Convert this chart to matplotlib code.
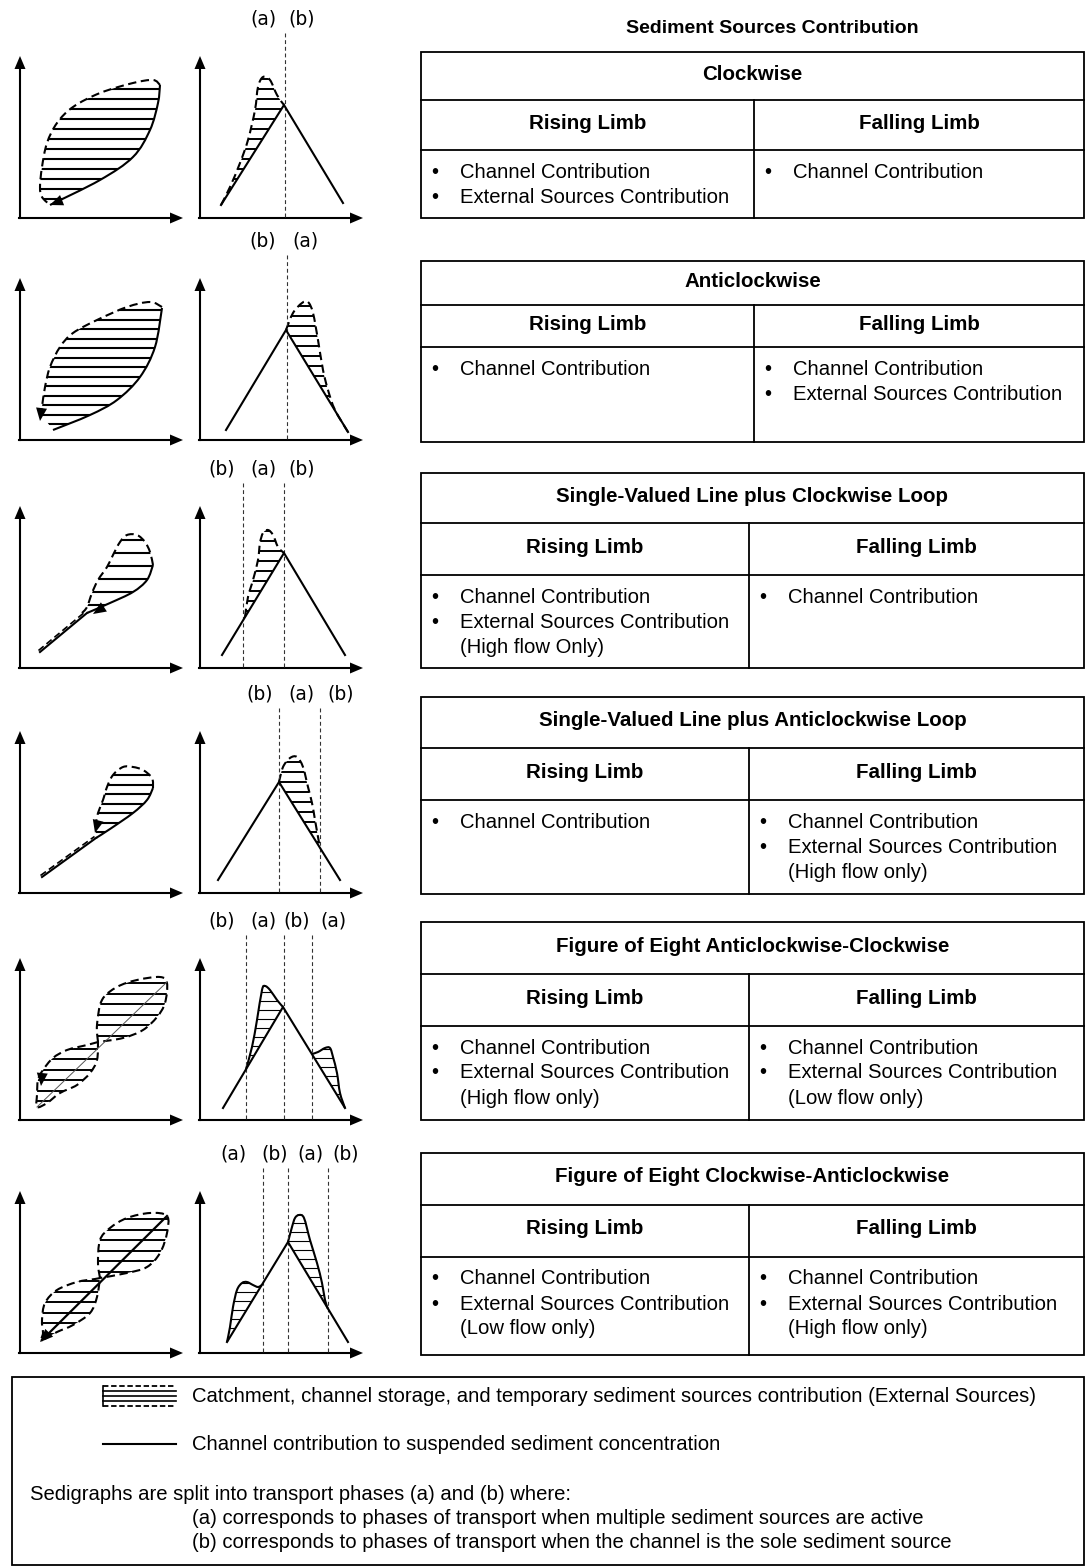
import numpy as np
import matplotlib.pyplot as plt
from matplotlib.path import Path
from matplotlib.patches import PathPatch, Polygon, Rectangle

plt.rcParams['font.family'] = ['Liberation Sans', 'DejaVu Sans']

# ---- table content ----
titles = ['Clockwise', 'Anticlockwise', 'Single-Valued Line plus Clockwise Loop',
          'Single-Valued Line plus Anticlockwise Loop',
          'Figure of Eight Anticlockwise-Clockwise', 'Figure of Eight Clockwise-Anticlockwise']
rising_text = [['Channel Contribution', 'External Sources Contribution'],
               ['Channel Contribution'],
               ['Channel Contribution', 'External Sources Contribution', '(High flow Only)'],
               ['Channel Contribution'],
               ['Channel Contribution', 'External Sources Contribution', '(High flow only)'],
               ['Channel Contribution', 'External Sources Contribution', '(Low flow only)']]
falling_text = [['Channel Contribution'],
                ['Channel Contribution', 'External Sources Contribution'],
                ['Channel Contribution'],
                ['Channel Contribution', 'External Sources Contribution', '(High flow only)'],
                ['Channel Contribution', 'External Sources Contribution', '(Low flow only)'],
                ['Channel Contribution', 'External Sources Contribution', '(High flow only)']]
phase_labels = [['(a)', '(b)'], ['(b)', '(a)'], ['(b)', '(a)', '(b)'], ['(b)', '(a)', '(b)'],
                ['(b)', '(a)', '(b)', '(a)'], ['(a)', '(b)', '(a)', '(b)']]
legend_text = ['Catchment, channel storage, and temporary sediment sources contribution (External Sources)',
               'Channel contribution to suspended sediment concentration',
               'Sedigraphs are split into transport phases (a) and (b) where:',
               '(a) corresponds to phases of transport when multiple sediment sources are active',
               '(b) corresponds to phases of transport when the channel is the sole sediment source']

# ---- hysteresis loop shapes (Q, SSC) ----
cw_solid = [(30, 13), (80, 38), (113, 61), (130, 88), (138, 115), (140, 133)]
cw_dashed = [(140, 133), (133, 138), (113, 135), (80, 125), (53, 111), (37, 95), (27, 75),
             (22, 51), (20, 31), (22, 21), (30, 13)]
acw_solid = [(33, 10), (70, 25), (97, 40), (120, 63), (135, 93), (142, 132)]
acw_dashed = [(142, 133), (130, 138), (107, 133), (77, 120), (53, 107), (40, 93), (30, 73),
              (25, 53), (22, 33), (21, 26)]
svcw_line = [(20, 16), (67, 55)]
svcw_solid = [(67, 55), (90, 65), (113, 76), (127, 88), (133, 103)]
svcw_dashed = [(133, 103), (130, 116), (125, 126), (117, 133), (107, 133), (100, 126), (93, 113),
               (87, 101), (78, 88), (72, 75), (67, 61), (62, 55)]
svacw_line = [(22, 16), (76, 55)]
svacw_solid = [(76, 55), (90, 64), (113, 80), (127, 93), (133, 105)]
svacw_dashed = [(133, 105), (132, 115), (123, 123), (113, 126), (103, 126), (93, 118), (87, 106),
                (83, 93), (78, 80), (76, 70)]
f8a_upper = [(78, 78), (77, 95), (82, 120), (97, 133), (117, 140), (140, 143), (147, 137), (145, 117),
             (137, 103), (123, 90), (103, 82), (78, 78)]
f8a_lower = [(78, 78), (67, 75), (47, 70), (33, 62), (23, 50), (18, 40), (17, 25), (17, 13), (27, 17),
             (40, 27), (57, 35), (70, 47), (77, 60), (78, 78)]
f8a_diag = [(17, 13), (147, 138)]
f8b_upper = [(80, 75), (78, 90), (80, 113), (90, 125), (107, 135), (130, 140), (147, 137), (147, 120),
             (140, 100), (127, 86), (107, 80), (80, 75)]
f8b_lower = [(80, 75), (75, 74), (57, 71), (37, 63), (25, 50), (22, 33), (23, 20), (22, 13), (37, 21),
             (53, 28), (70, 40), (77, 56), (80, 75)]
f8b_diag = [(22, 13), (147, 137)]

# ---- sedigraphs (time, SSC) ----
triangles = [[(21, 13), (84, 113), (143, 15)],
             [(26, 10), (86, 110), (148, 8)],
             [(22, 13), (84, 115), (145, 13)],
             [(18, 13), (79, 111), (140, 13)],
             [(23, 12), (83, 113), (145, 12)],
             [(27, 11), (88, 111), (148, 11)]]
bumps = [[[(21, 13), (30, 31), (40, 55), (48, 78), (55, 108), (58, 131), (63, 141), (70, 138), (77, 123), (84, 113)]],
         [[(86, 110), (93, 127), (102, 137), (108, 138), (113, 127), (118, 100), (123, 70), (128, 50), (135, 30), (148, 8)]],
         [[(45, 51), (48, 71), (53, 88), (58, 108), (60, 125), (63, 135), (68, 138), (73, 133), (78, 121), (84, 115)]],
         [[(79, 111), (83, 126), (90, 135), (97, 136), (103, 126), (108, 106), (112, 90), (115, 73), (118, 56), (120, 45)]],
         [[(46, 51), (52, 73), (57, 100), (62, 130), (65, 134), (70, 130), (77, 120), (83, 113)],
          [(112, 66), (118, 68), (125, 72), (130, 72), (133, 63), (137, 47), (140, 27), (145, 12)]],
         [[(27, 11), (30, 26), (33, 46), (37, 63), (42, 70), (47, 71), (53, 68), (58, 66), (62, 68)],
          [(88, 111), (92, 126), (95, 135), (99, 138), (104, 135), (110, 113), (117, 90), (122, 70), (125, 53), (128, 44)]]]
phase_splits = [[85], [87], [43, 84], [79, 120], [46, 84, 112], [63, 88, 128]]
label_pos = [[63, 102], [63, 105], [22, 63, 102], [60, 101, 141], [22, 63, 97, 133], [33, 75, 110, 146]]

# ---- layout ----
baselines = [218, 440, 668, 893, 1120, 1353]
tab_top = [52, 261, 473, 697, 922, 1153]
tab_title = [100, 305, 523, 748, 974, 1205]
tab_head = [150, 347, 575, 800, 1026, 1257]
tab_bot = [218, 442, 668, 894, 1120, 1355]
tab_split = [754, 754, 749, 749, 749, 749]
TX0, TX1 = 421, 1084
HX, SX = 20, 200
LW = 1.5
DASH = (0, (4, 2.2))

fig = plt.figure(figsize=(10.86, 15.68), dpi=100)
ax = fig.add_axes([0, 0, 1, 1])
ax.set_xlim(0, 1086)
ax.set_ylim(1568, 0)
ax.axis('off')


def glob(pts, x0, base):
    p = np.asarray(pts, float)
    return np.column_stack([x0 + p[:, 0], base - p[:, 1]])


def segs(p):
    # catmull-rom through the points, as cubic bezier pieces
    v = []
    n = len(p)
    for i in range(n - 1):
        p0 = p[i - 1] if i > 0 else p[i]
        p1, p2 = p[i], p[i + 1]
        p3 = p[i + 2] if i + 2 < n else p[i + 1]
        v += [p1 + (p2 - p0) / 6, p2 - (p3 - p1) / 6, p2]
    return v


def curve(p, closed=False):
    verts = [p[0]] + segs(p)
    codes = [Path.MOVETO] + [Path.CURVE4] * (len(verts) - 1)
    if closed:
        verts.append(p[0])
        codes.append(Path.CLOSEPOLY)
    return Path(verts, codes)


def region(*parts):
    verts = [parts[0][0]]
    codes = [Path.MOVETO]
    for p in parts:
        if np.hypot(*(p[0] - verts[-1])) > 0.5:
            verts.append(p[0])
            codes.append(Path.LINETO)
        s = segs(p)
        verts += s
        codes += [Path.CURVE4] * len(s)
    verts.append(parts[0][0])
    codes.append(Path.CLOSEPOLY)
    return Path(verts, codes)


def hatch(path, step, lw):
    patch = PathPatch(path, facecolor='none', edgecolor='none')
    ax.add_patch(patch)
    ext = path.get_extents()
    for y in np.arange(ext.y1 - step * 0.6, ext.y0, -step):
        ln, = ax.plot([ext.x0 - 3, ext.x1 + 3], [y, y], color='k', lw=lw, solid_capstyle='butt')
        ln.set_clip_path(patch)


def stroke(path, dashed=False, lw=LW, color='k'):
    ax.add_patch(PathPatch(path, fill=False, lw=lw, edgecolor=color,
                           linestyle=DASH if dashed else '-', capstyle='butt'))


def head(tip, d, length=13, width=11):
    tip = np.asarray(tip, float)
    d = np.asarray(d, float)
    d = d / np.hypot(*d)
    n = np.array([-d[1], d[0]])
    b = tip - d * length
    ax.add_patch(Polygon([tip, b + n * width / 2, b - n * width / 2], closed=True, color='k', lw=0))


def axes_arrows(x0, base):
    ax.plot([x0, x0], [base, base - 150], color='k', lw=LW)
    ax.plot([x0 - 1, x0 + 150], [base, base], color='k', lw=LW)
    head((x0, base - 162), (0, -1))
    head((x0 + 163, base), (1, 0))


# ---- hysteresis panels ----
loops = [(cw_solid, cw_dashed, 10, (30, 13), (-1, 0.4)),
         (acw_solid, acw_dashed, 9.5, (20, 19), (-0.12, 1)),
         (svcw_solid, svcw_dashed, 13, (73, 54), (-1, 0.65)),
         (svacw_solid, svacw_dashed, 9.5, (75, 60), (-0.25, 1))]
for i, (sol, das, step, tip, d) in enumerate(loops):
    b = baselines[i]
    axes_arrows(HX, b)
    s = glob(sol, HX, b)
    q = glob(das, HX, b)
    hatch(region(s, q), step, 1.5)
    stroke(curve(s))
    stroke(curve(q), dashed=True)
    head(glob([tip], HX, b)[0], (d[0], d[1]))
for i, line in ((2, svcw_line), (3, svacw_line)):
    b = baselines[i]
    g = glob(line, HX, b)
    ax.plot(g[:, 0], g[:, 1], color='k', lw=LW)
    ax.plot(g[:, 0] - 1.5, g[:, 1] - 1.5, color='k', lw=1.2, ls=DASH)

for i, (up, lo, dg, dlw, dcol, tip, d) in enumerate(
        [(f8a_upper, f8a_lower, f8a_diag, 0.7, '#555555', (21, 34), (-0.1, 1)),
         (f8b_upper, f8b_lower, f8b_diag, 1.6, 'k', (20, 11), (-1, 1))]):
    b = baselines[4 + i]
    axes_arrows(HX, b)
    for lobe in (up, lo):
        g = glob(lobe, HX, b)
        hatch(curve(g, closed=True), 10.5, 1.4)
        stroke(curve(g), dashed=True)
    g = glob(dg, HX, b)
    ax.plot(g[:, 0], g[:, 1], color=dcol, lw=dlw)
    head(glob([tip], HX, b)[0], d)

# ---- sedigraph panels ----
for i in range(6):
    b = baselines[i]
    axes_arrows(SX, b)
    for u in phase_splits[i]:
        ax.plot([SX + u, SX + u], [b - 185, b], color='#333333', lw=0.8, ls=(0, (3.5, 2.5)))
    for lab, u in zip(phase_labels[i], label_pos[i]):
        ax.text(SX + u, b - 199, lab, ha='center', va='center', fontsize=13.5, family='DejaVu Sans')
    for bp in bumps[i]:
        g = glob(bp, SX, b)
        thin = i >= 4
        hatch(curve(g, closed=True), 9 if thin else 10, 0.8 if thin else 1.4)
        stroke(curve(g), dashed=not thin)
    t = glob(triangles[i], SX, b)
    ax.plot(t[:, 0], t[:, 1], color='k', lw=LW, solid_joinstyle='miter')

# ---- tables ----
ax.text(772, 26, 'Sediment Sources Contribution', ha='center', va='center_baseline', fontsize=14, weight='bold')
FS = 14.6
FB = 14.8
for i in range(6):
    top, tl, hl, bot, sp = tab_top[i], tab_title[i], tab_head[i], tab_bot[i], tab_split[i]
    ax.add_patch(Rectangle((TX0, top), TX1 - TX0, bot - top, fill=False, lw=1.3, edgecolor='k'))
    ax.plot([TX0, TX1], [tl, tl], color='k', lw=1.3)
    ax.plot([TX0, TX1], [hl, hl], color='k', lw=1.3)
    ax.plot([sp, sp], [tl, bot], color='k', lw=1.3)
    ax.text((TX0 + TX1) / 2, (top + tl) / 2 - 4, titles[i], ha='center', va='center_baseline',
            fontsize=FB, weight='bold')
    ax.text((TX0 + sp) / 2, (tl + hl) / 2 - 4, 'Rising Limb', ha='center', va='center_baseline',
            fontsize=FB, weight='bold')
    ax.text((sp + TX1) / 2, (tl + hl) / 2 - 4, 'Falling Limb', ha='center', va='center_baseline',
            fontsize=FB, weight='bold')
    for xb, lines in ((TX0, rising_text[i]), (sp, falling_text[i])):
        for k, s in enumerate(lines):
            y = hl + 20 + 25 * k
            if not s.startswith('('):
                ax.text(xb + 10, y, '\u2022', ha='left', va='center_baseline', fontsize=FS)
            ax.text(xb + 39, y, s, ha='left', va='center_baseline', fontsize=FS)

# ---- legend ----
ax.add_patch(Rectangle((12, 1377), 1072, 188, fill=False, lw=1.3, edgecolor='k'))
ax.plot([103, 176], [1386, 1386], color='k', lw=1.3, ls=(0, (3, 1.5)))
ax.plot([103, 176], [1406, 1406], color='k', lw=1.3, ls=(0, (3, 1.5)))
for y in (1391, 1396, 1401):
    ax.plot([103, 176], [y, y], color='k', lw=1.2)
ax.plot([103, 103], [1386, 1406], color='k', lw=1.2)
ax.plot([103, 176], [1444, 1444], color='k', lw=LW)
for s, x, y in zip(legend_text, [192, 192, 30, 192, 192], [1395, 1443, 1492, 1517, 1541]):
    ax.text(x, y, s, ha='left', va='center_baseline', fontsize=FS)

fig.savefig('out.png', dpi=100)
